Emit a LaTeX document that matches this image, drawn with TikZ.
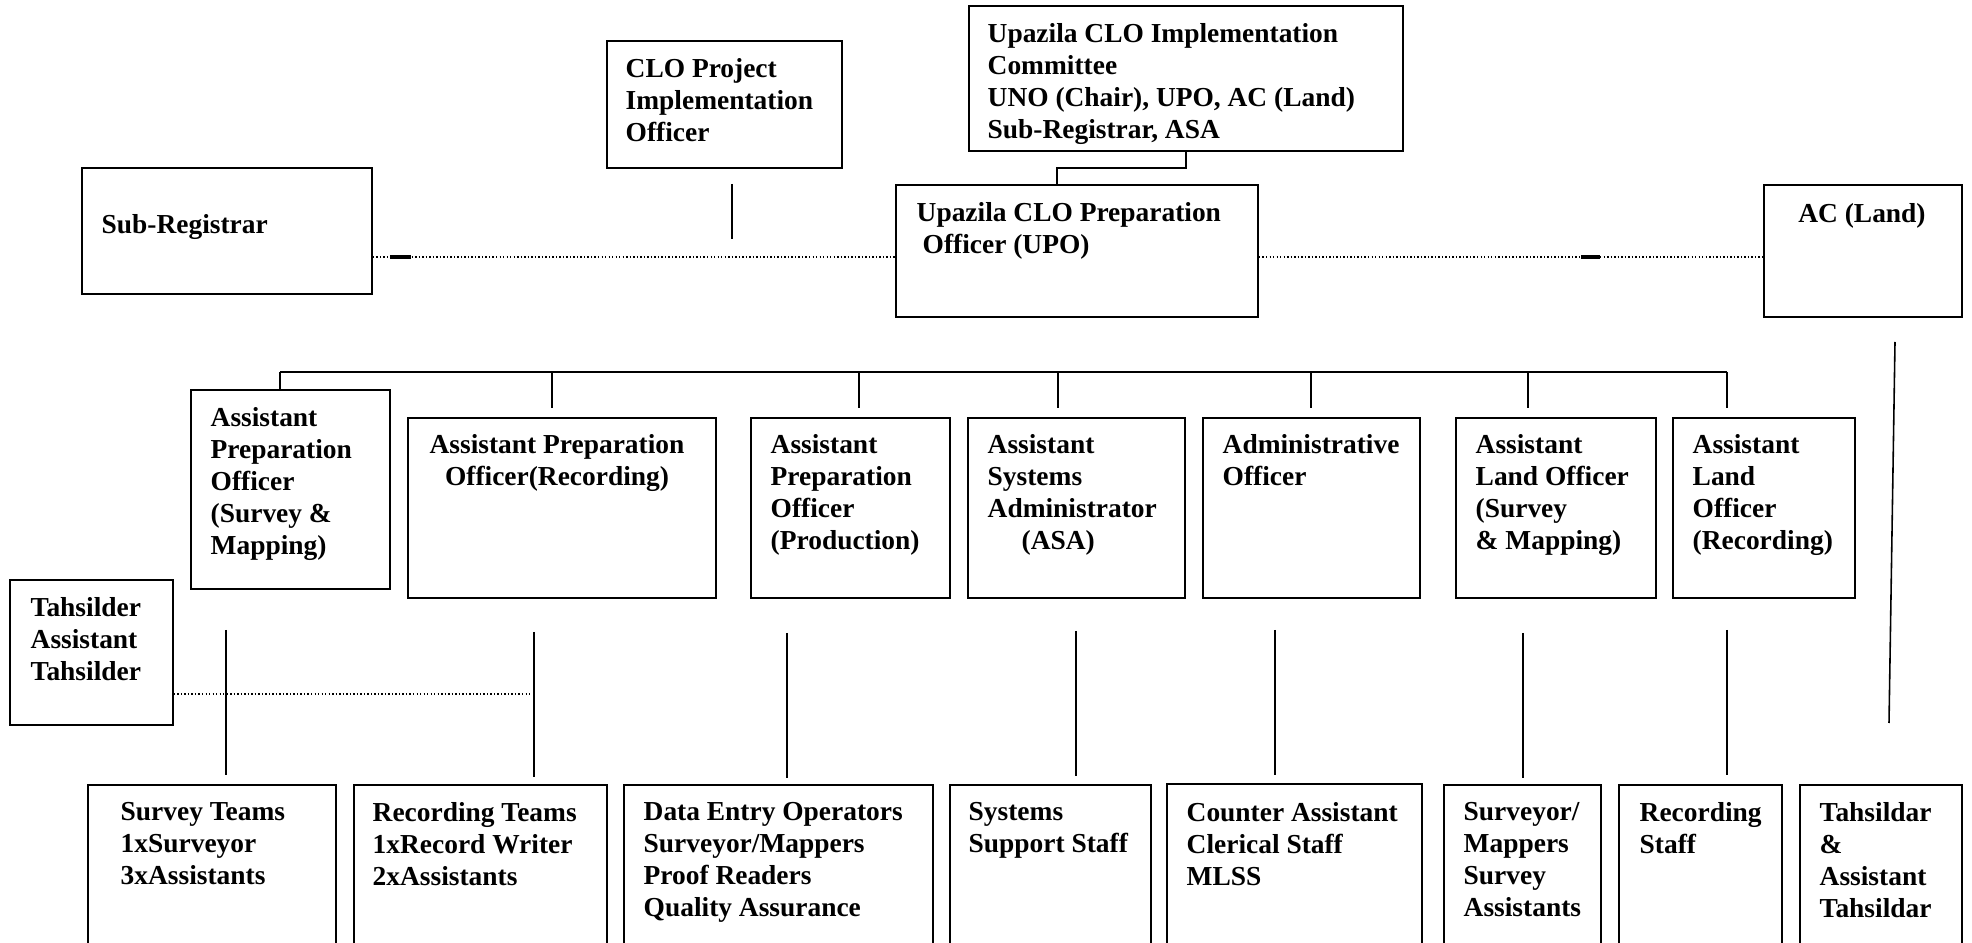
\documentclass[tikz,border=0pt]{standalone}
\usepackage{fontspec}
\setmainfont{Liberation Serif}

\begin{document}
\begin{tikzpicture}[x=0.01cm,y=-0.01cm]
  \tikzstyle{box}=[draw,line width=0.5pt,anchor=north west,inner sep=0pt]
  \tikzstyle{txt}=[anchor=north west,inner sep=0pt,align=left,font=\fontsize{7.8}{9.1}\selectfont\bfseries]
  \tikzstyle{wire}=[line width=0.45pt]
  \tikzstyle{tie}=[line width=0.4pt,dash pattern=on 0.4pt off 0.6pt]
  \tikzstyle{blip}=[line width=1.1pt]

  \path[use as bounding box,clip] (0,0) rectangle (1972,943);

  % top row
  \node[box,minimum width=2.90cm,minimum height=1.26cm] (SR)  at (81,167)   {};
  \node[box,minimum width=2.35cm,minimum height=1.27cm] (CPO) at (606,40)   {};
  \node[box,minimum width=4.34cm,minimum height=1.45cm] (UIC) at (968,5)    {};
  \node[box,minimum width=3.62cm,minimum height=1.32cm] (UPO) at (895,184)  {};
  \node[box,minimum width=1.98cm,minimum height=1.32cm] (ACL) at (1763,184) {};

  \node[txt,anchor=west] (SRt) at (101,227) {Sub-Registrar};
  \node[txt] (CPOt) at (625,58)  {CLO Project\\Implementation\\Officer};
  \node[txt] (UICt) at (987,23)  {Upazila CLO Implementation\\Committee\\UNO (Chair), UPO, AC (Land)\\Sub-Registrar, ASA};
  \node[txt] (UPOt) at (916,202) {Upazila CLO Preparation\\\hspace*{0.06cm}Officer (UPO)};
  \node[txt,anchor=north] (ACLt) at (1862,203) {AC (Land)};

  % middle row
  \node[box,minimum width=1.99cm,minimum height=1.99cm] (APS) at (190,389)  {};
  \node[box,minimum width=3.08cm,minimum height=1.80cm] (APR) at (407,417)  {};
  \node[box,minimum width=1.99cm,minimum height=1.80cm] (APP) at (750,417)  {};
  \node[box,minimum width=2.17cm,minimum height=1.80cm] (ASA) at (967,417)  {};
  \node[box,minimum width=2.17cm,minimum height=1.80cm] (ADM) at (1202,417) {};
  \node[box,minimum width=2.00cm,minimum height=1.80cm] (ALS) at (1455,417) {};
  \node[box,minimum width=1.82cm,minimum height=1.80cm] (ALR) at (1672,417) {};
  \node[box,minimum width=1.63cm,minimum height=1.45cm] (TAH) at (9,579)    {};

  \node[txt] (APSt) at (210,407)  {Assistant\\Preparation\\Officer\\(Survey \&\\Mapping)};
  \node[txt,anchor=north,align=center] (APRt) at (557,434) {Assistant Preparation\\Officer(Recording)};
  \node[txt] (APPt) at (770,434)  {Assistant\\Preparation\\Officer\\(Production)};
  \node[txt] (ASAt) at (987,434)  {Assistant\\Systems\\Administrator\\\hspace*{0.34cm}(ASA)};
  \node[txt] (ADMt) at (1222,434) {Administrative\\Officer};
  \node[txt] (ALSt) at (1475,434) {Assistant\\Land Officer\\(Survey\\\& Mapping)};
  \node[txt] (ALRt) at (1692,434) {Assistant\\Land\\Officer\\(Recording)};
  \node[txt] (TAHt) at (30,597)   {Tahsilder\\Assistant\\Tahsilder};

  % bottom row
  \node[box,minimum width=2.48cm,minimum height=2.30cm] (SVT) at (87,784)   {};
  \node[box,minimum width=2.53cm,minimum height=2.30cm] (RCT) at (353,784)  {};
  \node[box,minimum width=3.09cm,minimum height=2.30cm] (DEO) at (623,784)  {};
  \node[box,minimum width=2.01cm,minimum height=2.30cm] (SSS) at (949,784)  {};
  \node[box,minimum width=2.55cm,minimum height=2.30cm] (CAS) at (1166,783) {};
  \node[box,minimum width=1.57cm,minimum height=2.30cm] (SMA) at (1443,784) {};
  \node[box,minimum width=1.63cm,minimum height=2.30cm] (RCS) at (1618,784) {};
  \node[box,minimum width=1.62cm,minimum height=2.30cm] (TSD) at (1799,784) {};

  \node[txt] (SVTt) at (120,802)  {Survey Teams\\1xSurveyor\\3xAssistants};
  \node[txt] (RCTt) at (372,802)  {Recording Teams\\1xRecord Writer\\2xAssistants};
  \node[txt] (DEOt) at (643,802)  {Data Entry Operators\\Surveyor/Mappers\\Proof Readers\\Quality Assurance};
  \node[txt] (SSSt) at (968,802)  {Systems\\Support Staff};
  \node[txt] (CASt) at (1186,802) {Counter Assistant\\Clerical Staff\\MLSS};
  \node[txt] (SMAt) at (1463,802) {Surveyor/\\Mappers\\Survey\\Assistants};
  \node[txt] (RCSt) at (1639,802) {Recording\\Staff};
  \node[txt] (TSDt) at (1819,802) {Tahsildar\\\&\\Assistant\\Tahsildar};

  % links
  \coordinate (DL)  at (0,257);
  \coordinate (Uin) at (1057,184);
  \coordinate (Ca)  at (732,184);
  \coordinate (Cb)  at (732,239);
  \coordinate (BL)  at (280,372);
  \coordinate (BR)  at (1727,372);
  \coordinate (TDe) at (531,694);
  \coordinate (SLa) at (1895,342);
  \coordinate (SLb) at (1889,723);

  \draw[wire] (UIC.south) -- ++(0,16) -| (Uin);
  \draw[wire] (Ca) -- (Cb);
  \draw[tie] (SR.east |- DL) -- (UPO.west |- DL);
  \draw[tie] (UPO.east |- DL) -- (ACL.west |- DL);
  \draw[blip] (SR.east |- DL) ++(17,0) -- ++(21,0);
  \draw[blip] (ACL.west |- DL) ++(-182,0) -- ++(19,0);

  \draw[wire] (BL) -- (BR);
  \draw[wire] (BL) -- (BL |- APS.north);
  \foreach \x in {552,859,1058,1311,1528,1727} {
    \coordinate (D\x) at (\x,408);
    \draw[wire] (D\x |- BL) -- (D\x);
  }

  \draw[tie] (TAH.east |- TDe) -- (TDe);
  \foreach \x/\ya/\yb in {226/630/775, 534/632/777, 787/633/778, 1076/631/776, 1275/630/775, 1523/633/778, 1727/630/775} {
    \coordinate (Va\x) at (\x,\ya);
    \coordinate (Vb\x) at (\x,\yb);
    \draw[wire] (Va\x) -- (Vb\x);
  }
  \draw[wire] (SLa) -- (SLb);
\end{tikzpicture}
\end{document}
